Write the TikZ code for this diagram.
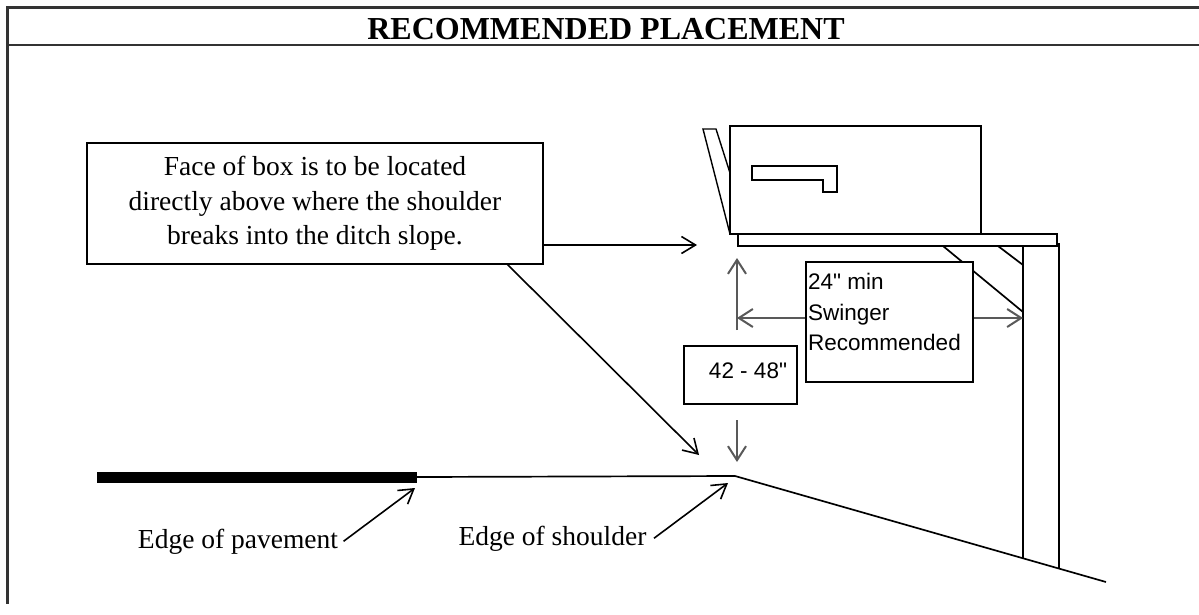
\documentclass[tikz,border=0pt]{standalone}
\usepackage{fontspec}
\setmainfont{Liberation Serif}
\newfontfamily\arialfont{Liberation Sans}
\usetikzlibrary{arrows.meta}
\begin{document}
\begin{tikzpicture}[x=1pt,y=-1pt,
  frameline/.style={line width=2.2pt, draw=black!80},
  obj/.style={line width=1.7pt},
  arr/.style={line width=1.6pt, -{Straight Barb[length=14pt,width=17pt]}},
  dimarr/.style={line width=2pt, draw=black!65, -{Straight Barb[length=14pt,width=18pt]}},
  serif/.style={font=\fontsize{27.5}{34.5}\selectfont},
  sans/.style={font=\arialfont\fontsize{22.5}{30.5}\selectfont},
]
\useasboundingbox (0,0) rectangle (1199,614);
\fill[white] (0,0) rectangle (1199,614);

% frame and title
\draw[frameline] (1199,7.5) -- (7.5,7.5) -- (7.5,604);
\draw[frameline] (7.5,45) -- (1199,45);
\node[font=\bfseries\fontsize{32}{36}\selectfont, anchor=base, inner sep=0] (title) at (606,39) {RECOMMENDED PLACEMENT};

% explanation box
\node[draw, obj, serif, align=center, minimum width=456pt, minimum height=121pt, inner sep=0] (face) at (315,203.5)
  {Face of box is to be located\\directly above where the shoulder\\breaks into the ditch slope.};
\coordinate (faceTip) at (697,245);
\draw[arr] (face.east |- faceTip) -- (faceTip);
\coordinate (diagS) at (507,264);
\coordinate (diagT) at (699,455);
\draw[arr] (diagS) -- (diagT);

% mailbox
\draw[obj] (730,126) rectangle (981,234);
\draw[line width=1.4pt] (730,234) -- (703,129) -- (716,129) -- (730,173);
\draw[line width=1.5pt] (752,166) -- (837,166) -- (837,192) -- (823,192) -- (823,180) -- (752,180) -- cycle;
\draw[obj] (738,234) rectangle (1057,246);
% post and braces
\draw[obj] (1023,246) -- (1023,559);
\draw[obj] (1059,243) -- (1059,569);
\draw[obj] (943,246) -- (1023,312);
\draw[obj] (998,246) -- (1023,265);

% ground
\coordinate (paveEnd) at (417,477);
\coordinate (brk) at (735,476);
\coordinate (ditch) at (1106,582);
\fill (97,472) rectangle (417,483);
\draw[obj] (paveEnd) -- (brk) -- (ditch);

% dimension: height
\node[draw, obj, minimum width=113pt, minimum height=58pt, inner sep=0] (hgt) at (740.5,375) {};
\node[sans, inner sep=0] (hgttxt) at (748,371) {42 - 48"};
\coordinate (upS) at (737,330);
\coordinate (upT) at (737,258);
\coordinate (dnS) at (737,420);
\coordinate (dnT) at (737,462);
\draw[dimarr] (upS) -- (upT);
\draw[dimarr] (dnS) -- (dnT);

% dimension: swinger
\node[draw, obj, fill=white, minimum width=167pt, minimum height=120pt, inner sep=0] (swing) at (889.5,322) {};
\node[sans, align=left, anchor=west, inner sep=0] (swingtxt) at (808,312) {24" min\\Swinger\\Recommended};
\coordinate (swL) at (737,318);
\coordinate (swR) at (1023,318);
\draw[dimarr] (swing.west |- swL) -- (swL);
\draw[dimarr] (swing.east |- swR) -- (swR);

% edge labels
\node[serif, anchor=base] (pave) at (238,548) {Edge of pavement};
\node[serif, anchor=base] (shoulder) at (552.5,545) {Edge of shoulder};
\coordinate (paveTip) at (415,488);
\coordinate (shTip) at (728,483);
\draw[arr] ([xshift=2pt]pave.east) -- (paveTip);
\draw[arr] ([xshift=4pt]shoulder.east) -- (shTip);
\end{tikzpicture}
\end{document}
